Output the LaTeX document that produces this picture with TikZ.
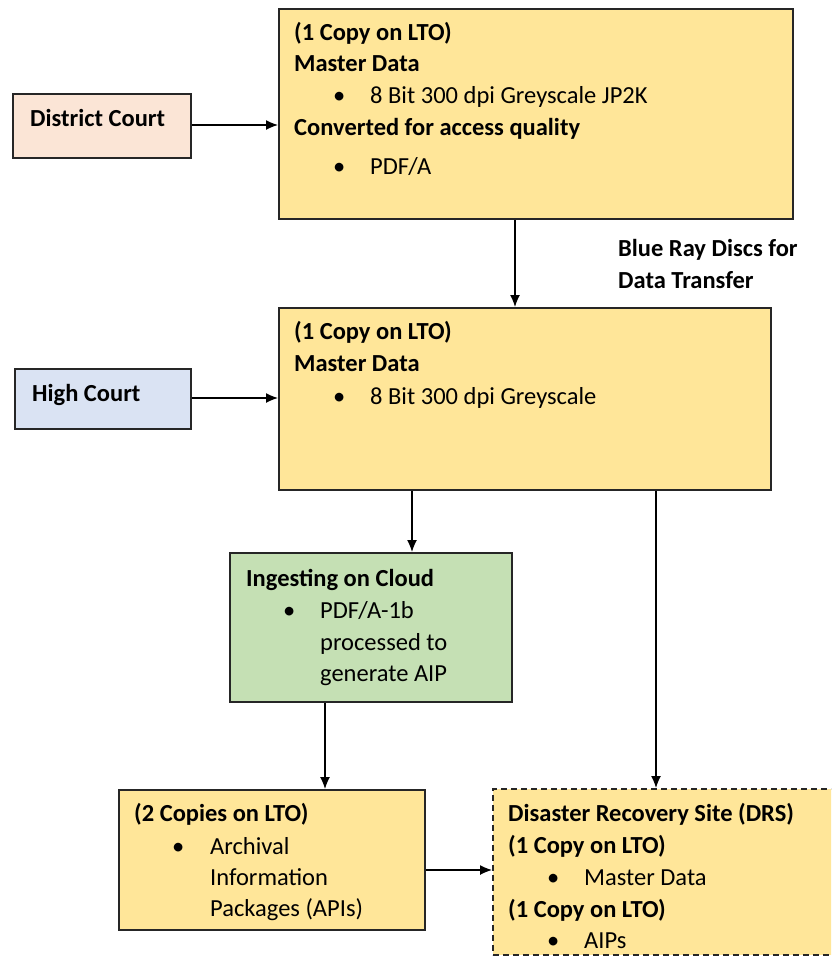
\documentclass[tikz,border=0pt]{standalone}
\usepackage{fontspec}
\setmainfont{Carlito}
\usetikzlibrary{arrows.meta}
\definecolor{gold}{HTML}{FFE699}
\definecolor{pinkc}{HTML}{FBE5D6}
\definecolor{bluec}{HTML}{DAE3F3}
\definecolor{greenc}{HTML}{C5E0B4}
\tikzset{
  box/.style={draw=black!85, line width=1.8pt, inner sep=0pt, anchor=north west},
  txt/.style={anchor=base west, inner sep=0pt, font=\fontsize{24.5}{28}\selectfont},
  btxt/.style={txt, font=\fontsize{24.5}{28}\selectfont\bfseries},
  arr/.style={line width=1.3pt, -{Latex[length=12pt,width=10pt]}},
}
\newcommand{\boxat}[6]{\node[box, fill=#6, minimum width=#4pt-#2pt, minimum height=#5pt-#3pt] (#1) at (#2,#3) {};}
\begin{document}
\begin{tikzpicture}[x=1pt,y=-1pt]
\clip (0,0) rectangle (831,956);
\fill[white] (0,0) rectangle (831,956);
% boxes
\boxat{dc}{12}{93}{190}{157}{pinkc}
\boxat{bone}{278}{8}{792}{218}{gold}
\boxat{btwo}{278}{307}{770}{489}{gold}
\boxat{hc}{14}{368}{190}{428}{bluec}
\boxat{gr}{229}{552}{511}{701}{greenc}
\boxat{lto}{118}{789}{424}{929}{gold}
\node[box, fill=gold, dash pattern=on 6pt off 4pt, line width=1.8pt, minimum width=344pt, minimum height=166pt] (drs) at (492,788) {};
% texts
\node[btxt] (dct) at (30,126) {District Court};
\node[btxt] (hct) at (32,401) {High Court};
\node[btxt] (t1a) at (294,40) {(1 Copy on LTO)};
\node[btxt] (t1b) at (294,71) {Master Data};
\node[txt] (t1c) at (333,103) {\textbullet};
\node[txt] (t1d) at (370,103) {8 Bit 300 dpi Greyscale JP2K};
\node[btxt] (t1e) at (294,135) {Converted for access quality};
\node[txt] (t1f) at (333,174) {\textbullet};
\node[txt] (t1g) at (370,174) {PDF/A};
\node[btxt] (brl1) at (618,256) {Blue Ray Discs for};
\node[btxt] (brl2) at (618,288) {Data Transfer};
\node[btxt] (t2a) at (294,339) {(1 Copy on LTO)};
\node[btxt] (t2b) at (294,371) {Master Data};
\node[txt] (t2c) at (333,404) {\textbullet};
\node[txt] (t2d) at (370,404) {8 Bit 300 dpi Greyscale};
\node[btxt] (g1) at (246,586) {Ingesting on Cloud};
\node[txt] (g2) at (283,618) {\textbullet};
\node[txt] (g3) at (320,618) {PDF/A-1b};
\node[txt] (g4) at (320,650) {processed to};
\node[txt] (g5) at (320,681) {generate AIP};
\node[btxt] (l1) at (134,821) {(2 Copies on LTO)};
\node[txt] (l2) at (172,854) {\textbullet};
\node[txt] (l3) at (210,854) {Archival};
\node[txt] (l4) at (210,885) {Information};
\node[txt] (l5) at (210,916) {Packages (APIs)};
\node[btxt] (d1) at (508,821) {Disaster Recovery Site (DRS)};
\node[btxt] (d2) at (508,853) {(1 Copy on LTO)};
\node[txt] (d3) at (547,885) {\textbullet};
\node[txt] (d4) at (584,885) {Master Data};
\node[btxt] (d5) at (508,917) {(1 Copy on LTO)};
\node[txt] (d6) at (547,948) {\textbullet};
\node[txt] (d7) at (584,948) {AIPs};
% connectors
\coordinate (ya) at (0,125);
\coordinate (yb) at (0,398);
\coordinate (yc) at (0,870);
\coordinate (xa) at (515,0);
\coordinate (xb) at (412,0);
\coordinate (xc) at (656,0);
\coordinate (xd) at (325,0);
\draw[arr] (dc.east |- ya) -- (bone.west |- ya);
\draw[arr] (bone.south -| xa) -- (btwo.north -| xa);
\draw[arr] (hc.east |- yb) -- (btwo.west |- yb);
\draw[arr] (btwo.south -| xb) -- (gr.north -| xb);
\draw[arr] (btwo.south -| xc) -- (drs.north -| xc);
\draw[arr] (gr.south -| xd) -- (lto.north -| xd);
\draw[arr] (lto.east |- yc) -- (drs.west |- yc);
\end{tikzpicture}
\end{document}
